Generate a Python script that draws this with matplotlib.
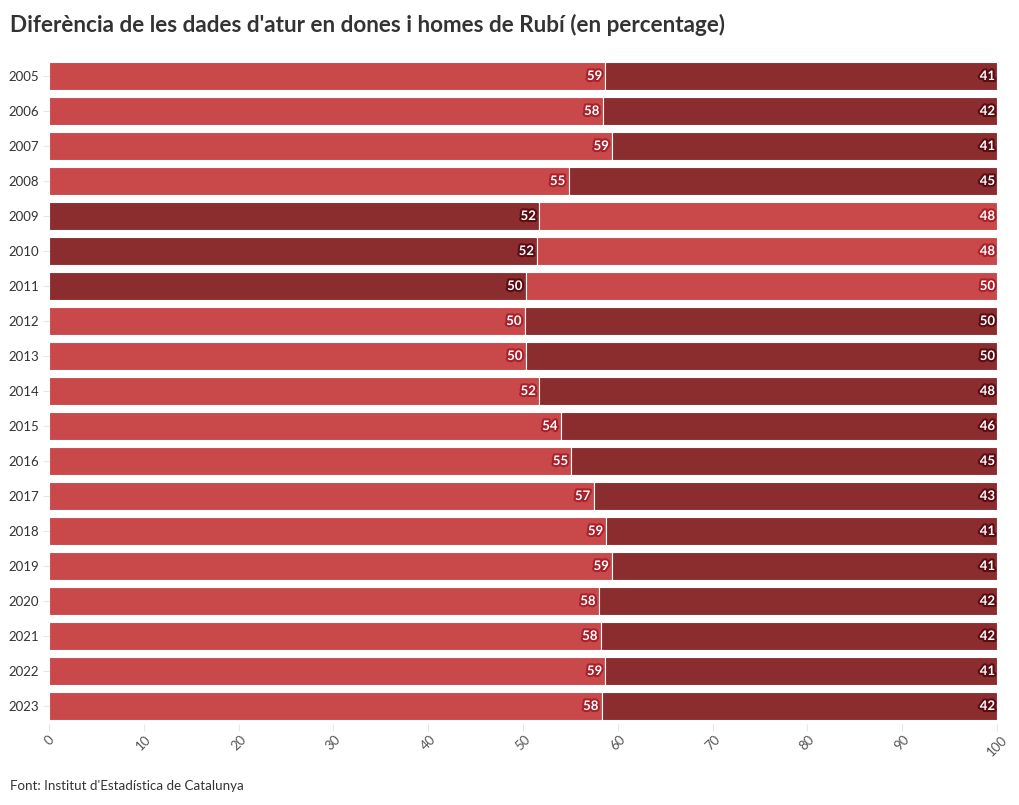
import matplotlib
matplotlib.use("Agg")
import matplotlib.pyplot as plt
import matplotlib.patheffects as pe
import numpy as np

plt.rcParams['font.family'] = ['Lato', 'DejaVu Sans']

years = [str(y) for y in range(2005, 2024)]
# share of the left segment (percentage), right segment is the rest
left_vals = [58.7, 58.4, 59.4, 54.8, 51.7, 51.5, 50.3, 50.2, 50.3, 51.7,
             54.0, 55.1, 57.45, 58.8, 59.4, 58.0, 58.2, 58.7, 58.3]
right_vals = [100 - v for v in left_vals]
# which series is on the left: "d" = dones (light), "h" = homes (dark)
left_series = ["d"] * 4 + ["h"] * 3 + ["d"] * 12

LIGHT, DARK = "#c9494b", "#8b2d2f"
HALO = {LIGHT: "#a8202a", DARK: "#5a0c12"}

fig = plt.figure(figsize=(10.2, 8.05), dpi=100)
ax = fig.add_axes([49/1020, 1 - 723.5/805, (997 - 49)/1020, (723.5 - 58.5)/805])

y = np.arange(len(years))
cl = [LIGHT if s == "d" else DARK for s in left_series]
cr = [DARK if s == "d" else LIGHT for s in left_series]
ax.barh(y, left_vals, height=0.8, color=cl, edgecolor="white", linewidth=0.8)
ax.barh(y, right_vals, left=left_vals, height=0.8, color=cr, edgecolor="white", linewidth=0.8)

def lab(x, yy, v, c):
    t = ax.text(x, yy, f"{round(v):d}", ha="right", va="center", color="white",
                fontsize=9.5, fontweight="bold")
    t.set_path_effects([pe.withStroke(linewidth=3, foreground=HALO[c])])

for i in range(len(years)):
    lab(left_vals[i] - 0.35, y[i], left_vals[i], cl[i])
    lab(99.8, y[i], right_vals[i], cr[i])

ax.set_xlim(0, 100)
ax.set_ylim(len(years) - 0.5, -0.5)
ax.set_yticks(y)
ax.set_yticklabels(years)
ax.set_xticks(range(0, 101, 10))
ax.tick_params(axis="y", length=4, color="#e6e6e6", labelsize=9.5, labelcolor="#333333", pad=3)
ax.tick_params(axis="x", length=5, color="#e6e6e6", labelsize=9.5, labelcolor="#555555",
               labelrotation=45, pad=2)
for lbl in ax.get_xticklabels():
    lbl.set_ha("center")
for s in ax.spines.values():
    s.set_visible(False)

fig.text(10/1020, 1 - 25/805, "Diferència de les dades d'atur en dones i homes de Rubí (en percentage)",
         fontsize=16.2, fontweight="bold", color="#333333", va="center", ha="left")
fig.text(10/1020, 1 - 786/805, "Font: Institut d'Estadística de Catalunya",
         fontsize=9.6, color="#333333", va="center", ha="left")

fig.savefig("out.png", dpi=100)
